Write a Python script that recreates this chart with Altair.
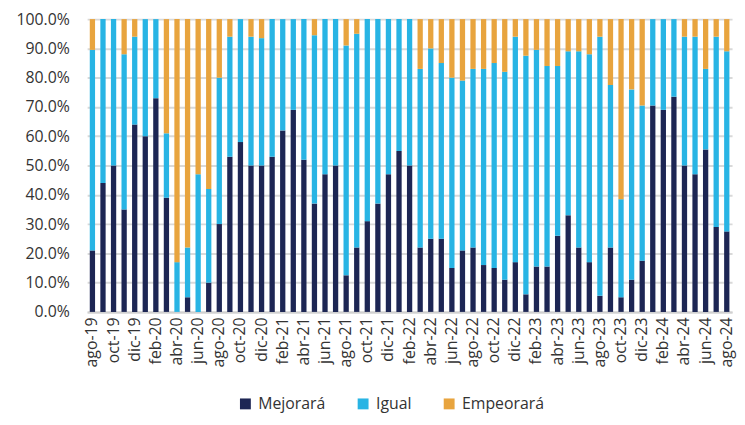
import altair as alt
import pandas as pd

month_names = ["ene", "feb", "mar", "abr", "may", "jun", "jul", "ago", "sep", "oct", "nov", "dic"]
months = []
for y in range(19, 25):
    for m in range(12):
        if (y == 19 and m < 7) or (y == 24 and m > 7):
            continue
        months.append(f"{month_names[m]}-{y}")

mejorara = [21, 44, 50, 35, 64, 60, 73, 39, 0, 5, 0, 10, 30, 53, 58,
            50, 50, 53, 62, 69, 52, 37, 47, 50, 12.5, 22, 31, 37, 47, 55, 50,
            22, 25, 25, 15, 21, 22, 16, 15, 11, 17, 6, 15.5, 15.5, 26, 33, 22, 17, 5.5, 22, 5, 11, 17.5,
            70.5, 69, 73.5, 50, 47, 55.5, 29, 27.5]
igual = [68.5, 56, 50, 53, 30, 40, 27, 22, 17, 17, 47, 32, 50, 41, 42,
         44, 43.5, 47, 38, 31, 48, 57.5, 53, 50, 78.5, 73, 69, 63, 53, 45, 50,
         61, 65, 60, 65, 58, 61, 67, 70, 71, 77, 81.5, 74, 68.5, 58, 56, 67, 71, 88.5, 55.5, 33.5, 65, 53,
         29.5, 31, 26.5, 44, 47, 27.5, 65, 61.5]
empeorara = [10.5, 0, 0, 12, 6, 0, 0, 39, 83, 78, 53, 58, 20, 6, 0,
             6, 6.5, 0, 0, 0, 0, 5.5, 0, 0, 9, 5, 0, 0, 0, 0, 0,
             17, 10, 15, 20, 21, 17, 17, 15, 18, 6, 12.5, 10.5, 16, 16, 11, 11, 12, 6, 22.5, 61.5, 24, 29.5,
             0, 0, 0, 6, 6, 17, 6, 11]

series = ["Mejorará", "Igual", "Empeorará"]
colors = ["#1d2654", "#28b4e4", "#e8a43e"]

rows = []
for i, mth in enumerate(months):
    for k, (name, vals) in enumerate(zip(series, [mejorara, igual, empeorara])):
        rows.append({"mes": mth, "serie": name, "valor": vals[i], "orden": k})
df = pd.DataFrame(rows)

FONT = "Open Sans"
label_months = months[::2]

chart = alt.Chart(df).mark_bar().encode(
    x=alt.X("mes:N", sort=months, title=None,
            scale=alt.Scale(paddingInner=0.5, paddingOuter=0.25),
            axis=alt.Axis(values=label_months, labelAngle=-90, labelFontSize=16,
                          labelColor="#333333", labelFont=FONT, ticks=False,
                          domainColor="#d0d0d0", domainWidth=2, labelPadding=5)),
    y=alt.Y("valor:Q", stack="normalize", title=None,
            scale=alt.Scale(domain=[0, 1]),
            axis=alt.Axis(labelExpr="format(datum.value, '.1%')",
                          values=[i / 10 for i in range(11)],
                          labelFontSize=16, labelColor="#333333", labelFont=FONT,
                          ticks=False, domain=False, labelPadding=18,
                          gridColor="#d9d9d9", gridWidth=2)),
    color=alt.Color("serie:N", sort=series,
                    scale=alt.Scale(domain=series, range=colors),
                    legend=alt.Legend(title=None, orient="none", direction="horizontal",
                                      legendX=152, legendY=381,
                                      symbolType="square", symbolSize=121, symbolStrokeWidth=0,
                                      labelFontSize=16, labelFont=FONT, labelColor="#333333",
                                      labelOffset=5, columnPadding=30)),
    order=alt.Order("orden:Q", sort="ascending"),
).properties(
    width=652, height=296,
    autosize=alt.AutoSizeParams(type="none"),
    padding={"left": 80, "top": 9, "right": 5, "bottom": 104},
).configure_view(stroke=None)

chart.save("out.html", embed_options={"renderer": "svg", "actions": False})
